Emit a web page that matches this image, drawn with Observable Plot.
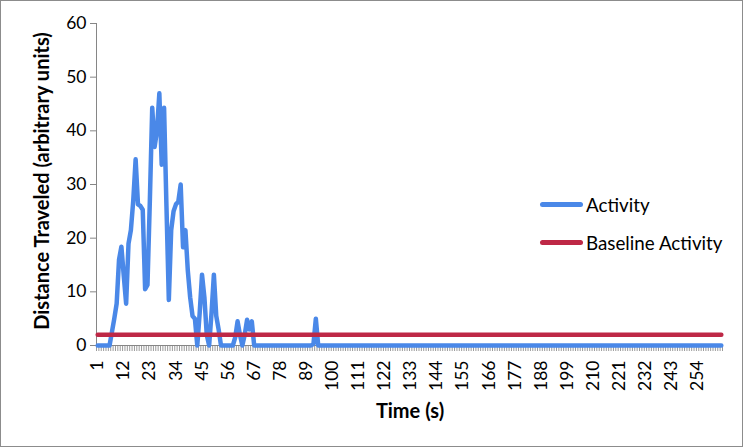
<!DOCTYPE html>
<html><head><meta charset="utf-8">
<script src="https://cdn.jsdelivr.net/npm/d3@7"></script>
<script src="https://cdn.jsdelivr.net/npm/@observablehq/plot@0.6"></script>
<style>
body{margin:0;background:#fff;}
#wrap{position:relative;width:745px;height:448px;font-family:Lato,"Noto Sans",sans-serif;overflow:hidden;}
#chart{position:absolute;left:0;top:0;}
#border{position:absolute;left:0;top:0;width:741px;height:445px;border:1px solid #8c8c8c;pointer-events:none;}
.title{position:absolute;font-weight:bold;font-size:20px;white-space:nowrap;color:#000;}
#ytitle{left:41px;top:181px;transform:translate(-50%,-50%) rotate(-90deg);}
#xtitle{left:410px;top:410px;transform:translate(-50%,-50%);}
.leg{position:absolute;left:540px;display:flex;align-items:center;font-size:18.8px;color:#000;white-space:nowrap;height:24px;}
.leg .sw{width:43px;height:5px;border-radius:2.5px;margin-right:3px;}
</style></head><body>
<div id="wrap">
  <div id="chart"></div>
  <div id="ytitle" class="title">Distance Traveled (arbitrary units)</div>
  <div id="xtitle" class="title">Time (s)</div>
  <div id="leg1" class="leg" style="top:192px"><div class="sw" style="background:#4a88e8"></div><span>Activity</span></div>
  <div id="leg2" class="leg" style="top:230px"><div class="sw" style="background:#be2846"></div><span>Baseline Activity</span></div>
  <div id="border"></div>
</div>
<script>
const time = d3.range(1, 265);
const activity = [
  0,0,0,0,0,0,2.5,5,7.8,16,
  18.4,13,7.8,19,21.5,27,34.7,26.3,26,25.3,
  10.5,11.3,27,44.3,37,40,47,33.7,44.3,26,
  8.5,21.5,25,26.3,26.8,30,18.3,21.5,14,9,
  5.5,5,0,6,13.2,9,2,0,6,13.2,
  5.5,3,0,0,0,0,0,0,1.5,4.5,
  2,0,2,4.8,3,4.5,0,0,0,0,
  0,0,0,0,0,0,0,0,0,0,
  0,0,0,0,0,0,0,0,0,0,
  0,0.3,5,0,0,0,0,0,0,0,
  0,0,0,0,0,0,0,0,0,0,
  0,0,0,0,0,0,0,0,0,0,
  0,0,0,0,0,0,0,0,0,0,
  0,0,0,0,0,0,0,0,0,0,
  0,0,0,0,0,0,0,0,0,0,
  0,0,0,0,0,0,0,0,0,0,
  0,0,0,0,0,0,0,0,0,0,
  0,0,0,0,0,0,0,0,0,0,
  0,0,0,0,0,0,0,0,0,0,
  0,0,0,0,0,0,0,0,0,0,
  0,0,0,0,0,0,0,0,0,0,
  0,0,0,0,0,0,0,0,0,0,
  0,0,0,0,0,0,0,0,0,0,
  0,0,0,0,0,0,0,0,0,0,
  0,0,0,0,0,0,0,0,0,0,
  0,0,0,0,0,0,0,0,0,0,
  0,0,0,0
];
const baselineValue = 2;
const tickLabels = [1,12,23,34,45,56,67,78,89,100,111,122,133,144,155,166,177,188,199,210,221,232,243,254];
const yTicks = [0,10,20,30,40,50,60];

const rows = time.map((t, i) => ({t, activity: activity[i], baseline: baselineValue}));
const boundaries = d3.range(0, time.length + 1).map(i => i + 0.5);

const plot = Plot.plot({
  width: 745, height: 448,
  marginLeft: 96, marginRight: 23, marginTop: 23, marginBottom: 103,
  style: {fontFamily: "Lato, 'Noto Sans', sans-serif", fontSize: "17.5px", color: "#000", background: "transparent", overflow: "visible"},
  x: {type: "linear", domain: [0.5, time.length + 0.5]},
  y: {domain: [0, 60]},
  marks: [
    Plot.axisX(boundaries, {tickSize: 6, tickFormat: () => "", stroke: "#9a9a9a", label: null}),
    Plot.axisX(tickLabels, {tickSize: 0, tickPadding: 15, tickRotate: -90, label: null, fill: "#000"}),
    Plot.axisY(yTicks, {tickSize: 6, tickPadding: 4, label: null, stroke: "#868686", fill: "#000"}),
    Plot.ruleY([0], {stroke: "#868686"}),
    Plot.ruleX([0.5], {stroke: "#868686"}),
    Plot.lineY(rows, {x: "t", y: "activity", stroke: "#4a88e8", strokeWidth: 4.5}),
    Plot.lineY(rows, {x: "t", y: "baseline", stroke: "#be2846", strokeWidth: 4.5})
  ]
});
document.getElementById("chart").appendChild(plot);
</script>
</body></html>
